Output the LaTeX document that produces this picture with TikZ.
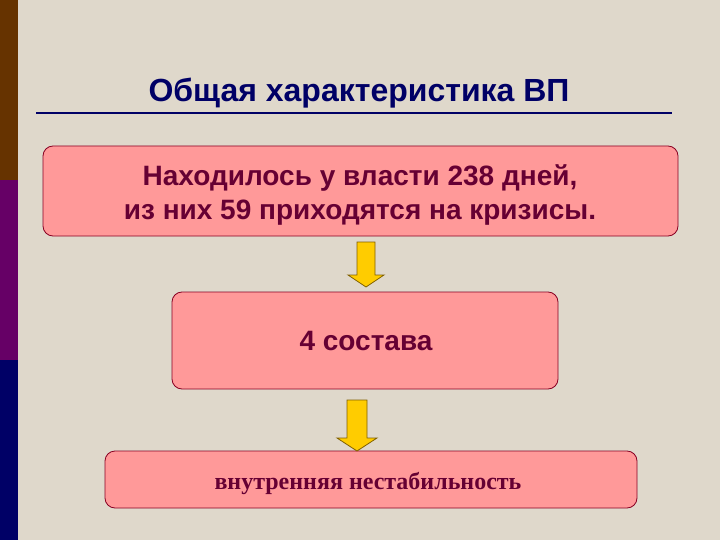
\documentclass[tikz,border=0pt]{standalone}
\usepackage{fontspec}
\setmainfont{Liberation Sans}
\newfontfamily\serifbold{Liberation Serif}
\definecolor{bg}{HTML}{DFD8CB}
\definecolor{barA}{HTML}{663300}
\definecolor{barB}{HTML}{660066}
\definecolor{barC}{HTML}{000066}
\definecolor{titlec}{HTML}{000066}
\definecolor{boxfill}{HTML}{FF9999}
\definecolor{boxline}{HTML}{880022}
\definecolor{textc}{HTML}{660033}
\definecolor{arrfill}{HTML}{FFCC00}
\definecolor{arrline}{HTML}{806000}
\tikzset{
  pinkbox/.style={draw=boxline, line width=0.8pt, fill=boxfill, rounded corners=10pt, inner sep=0pt},
  boxtext/.style={text=textc, align=center, inner sep=0pt},
  yellowarrow/.style={draw=arrline, fill=arrfill, line width=0.8pt, line join=miter}
}
\newcommand{\yarrowshape}[6]{% cx, top, headstart, tip, shafthalf, headhalf
  \draw[yellowarrow] (#1-#5,#2) -- (#1+#5,#2) -- (#1+#5,#3) -- (#1+#6,#3) -- (#1,#4) -- (#1-#6,#3) -- (#1-#5,#3) -- cycle;
}
\begin{document}
\begin{tikzpicture}[x=1pt,y=-1pt]
\fill[bg] (0,0) rectangle (720,540);
\useasboundingbox (0,0) rectangle (720,540);
\fill[barA] (0,0) rectangle (18,180);
\fill[barB] (0,180) rectangle (18,360);
\fill[barC] (0,360) rectangle (18,540);
\node[text=titlec, font=\fontsize{32}{36}\selectfont\bfseries] (title) at (359,93) {Общая характеристика ВП};
\coordinate (l1) at (36,113);
\coordinate (l2) at (672,113);
\draw[titlec, line width=2pt] (l1) -- (l2);
\node[pinkbox, minimum width=635pt, minimum height=90pt] (b1) at (360.5,191) {};
\node[boxtext, font=\fontsize{28}{34}\selectfont\bfseries] (t1) at (360,195) {Находилось у власти 238 дней,\\из них 59 приходятся на кризисы.};
\node[pinkbox, minimum width=386pt, minimum height=97pt] (b2) at (365,340.5) {};
\node[boxtext, font=\fontsize{28}{32}\selectfont\bfseries] (t2) at (366,341) {4 состава};
\node[pinkbox, minimum width=532pt, minimum height=57pt] (b3) at (371,479.5) {};
\node[boxtext, font=\serifbold\fontsize{24}{28}\selectfont\bfseries] (t3) at (368,483) {внутренняя нестабильность};
\yarrowshape{366}{242}{275}{287}{9}{18}
\yarrowshape{357}{400}{438}{451}{10}{20}
\end{tikzpicture}
\end{document}
